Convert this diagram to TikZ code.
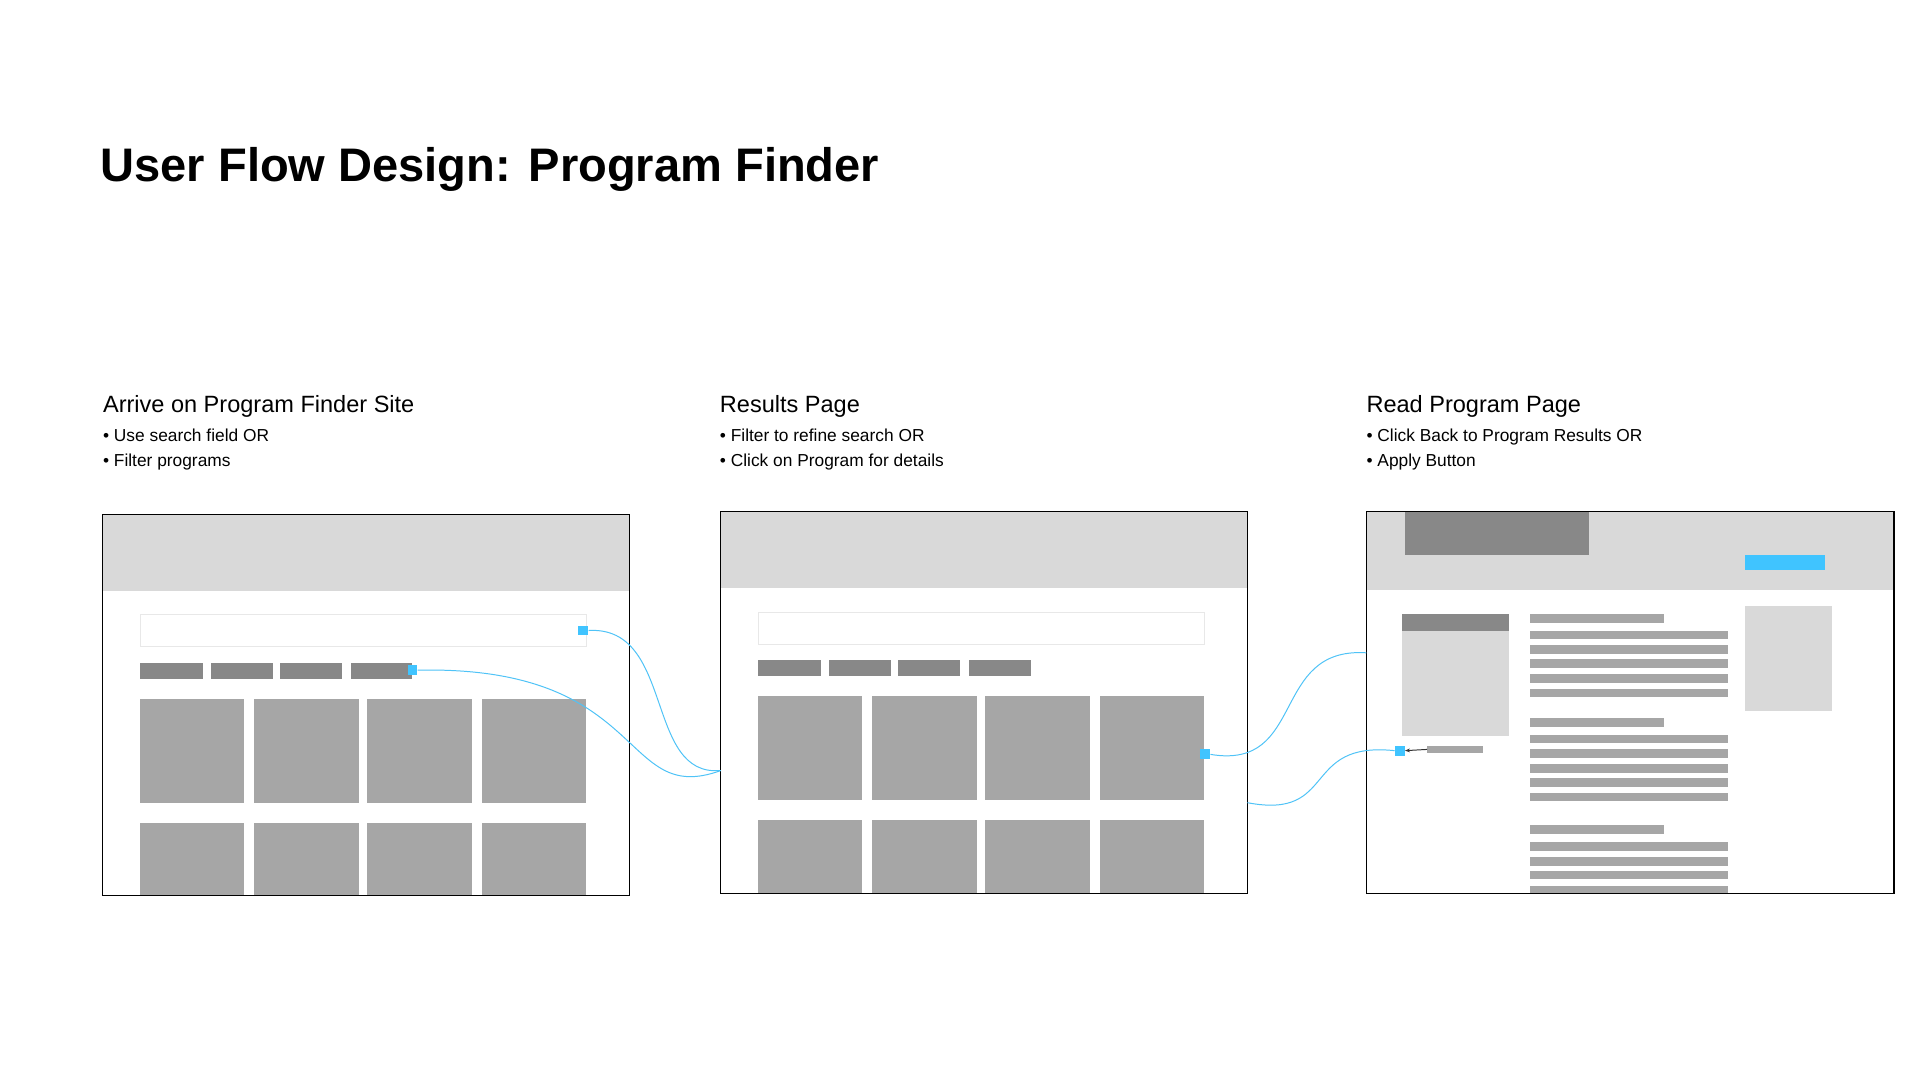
\documentclass[tikz,border=0pt]{standalone}
\usepackage{fontspec}
\setmainfont{Liberation Sans}
\usetikzlibrary{arrows.meta}
\definecolor{lg}{HTML}{D9D9D9}
\definecolor{mg}{HTML}{A6A6A6}
\definecolor{dg}{HTML}{888888}
\definecolor{sky}{HTML}{40C4FF}
\definecolor{wire}{HTML}{4FC3F7}
\tikzset{
 frame/.style={draw=black,line width=0.9pt,fill=none},
 dot/.style={fill=sky,draw=none,minimum size=8pt,inner sep=0pt},
 flow/.style={draw=wire,line width=0.8pt},
 tt/.style={anchor=north west,inner sep=0pt,font=\fontsize{19}{23}\selectfont},
 bl/.style={anchor=north west,inner sep=0pt,font=\fontsize{14}{20}\selectfont,align=left}
}
\begin{document}
\begin{tikzpicture}[x=1pt,y=-1pt]
\useasboundingbox (0,0) rectangle (1550,872);
\fill[white] (0,0) rectangle (1550,872);
\node[anchor=west,inner sep=0pt,font=\bfseries\fontsize{38}{40}\selectfont] (title) at (81,137) {User Flow Design: Program Finder};
% headings
\node[tt] (h1) at (83,319) {Arrive on Program Finder Site};
\node[bl] (b1) at (83,346) {• Use search field OR\\• Filter programs};
\node[tt] (h2) at (581,319) {Results Page};
\node[bl] (b2) at (581,346) {• Filter to refine search OR\\• Click on Program for details};
\node[tt] (h3) at (1103,319) {Read Program Page};
\node[bl] (b3) at (1103,346) {• Click Back to Program Results OR\\• Apply Button};
% frame 1 and 2 content
\foreach \dx/\dy in {0/0,499/-2}{
 \begin{scope}[shift={(\dx,\dy)}]
 \fill[lg] (83,415) rectangle (508,477);
 \draw[draw=lg!60,line width=0.6pt] (113,496) rectangle (473,522);
 \foreach \a/\b in {113/164,170/220,226/276,283/333}{\fill[dg] (\a,535) rectangle (\b,548);}
 \foreach \a/\b in {113/197,205/290,296/381,389/473}{
   \fill[mg] (\a,564) rectangle (\b,648);
   \fill[mg] (\a,664) rectangle (\b,723);}
 \end{scope}}
\node[frame,minimum width=425pt,minimum height=308pt,inner sep=0pt] (f1) at (295.5,569) {};
\node[frame,minimum width=425pt,minimum height=308pt,inner sep=0pt] (f2) at (794.5,567) {};
% frame 3 content
\fill[lg] (1103,413) rectangle (1529,476);
\fill[dg] (1134,413) rectangle (1283,448);
\fill[sky] (1409,448) rectangle (1473,460);
\fill[lg] (1132,509) rectangle (1218,594);
\fill[dg] (1132,496) rectangle (1218,509);
\fill[lg] (1409,489) rectangle (1479,574);
\fill[mg] (1152,602) rectangle (1197,608);
\foreach \y in {496,580,666}{\fill[mg] (1235,\y) rectangle (1343,\y+7);}
\foreach \y in {509,521,532,544,556,593,605,617,628,640,680,692,703,715}{\fill[mg] (1235,\y) rectangle (1395,\y+7);}
\node[frame,minimum width=426pt,minimum height=308pt,inner sep=0pt] (f3) at (1316,567) {};
% dots
\node[dot] (s1) at (471,509) {};
\node[dot] (s2) at (333,541) {};
\node[dot] (s3) at (973,609) {};
\node[dot] (s4) at (1130,606) {};
\coordinate (back) at (1152,605);
\draw[-{Stealth[length=4pt]},line width=0.8pt,black!80] (back) -- (s4.east);
% connectors
\coordinate (in2) at (582,622);
\coordinate (in3) at (1103,527);
\coordinate (out2) at (1007,648);
\draw[flow] (s1.east) .. controls (545,505) and (520,628) .. (in2);
\draw[flow] (s2.east) .. controls (525,537) and (500,652) .. (in2);
\draw[flow] (s3.east) .. controls (1055,622) and (1025,522) .. (in3);
\draw[flow] (out2) .. controls (1080,662) and (1050,598) .. (s4.west);
\end{tikzpicture}
\end{document}
